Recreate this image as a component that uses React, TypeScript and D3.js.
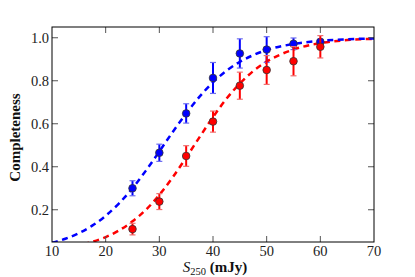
import React, { useEffect, useRef } from 'react';
import * as d3 from 'd3';

// measured points (flux in mJy)
const fluxes = [25, 30, 35, 40, 45, 50, 55, 60];
const blueVals = [0.30, 0.465, 0.648, 0.813, 0.927, 0.945, 0.972, 0.981];
const blueErrs = [0.035, 0.04, 0.045, 0.072, 0.068, 0.06, 0.027, 0.012];
const redVals = [0.11, 0.238, 0.45, 0.61, 0.777, 0.85, 0.891, 0.958];
const redErrs = [0.027, 0.037, 0.048, 0.049, 0.063, 0.067, 0.068, 0.052];

// fitted curves
const curveX = [10, 12.5, 15, 17.5, 20, 22.5, 25, 27.5, 30, 32.5, 35, 37.5, 40, 42.5, 45, 47.5, 50, 55, 60, 65, 70];
const blueCurve = [0.046, 0.065, 0.091, 0.126, 0.172, 0.23, 0.3, 0.382, 0.471, 0.562, 0.648, 0.726, 0.793, 0.846, 0.888, 0.919, 0.943, 0.971, 0.986, 0.993, 0.997];
const redCurve = [0.022, 0.028, 0.035, 0.051, 0.073, 0.104, 0.146, 0.2, 0.269, 0.351, 0.443, 0.538, 0.631, 0.716, 0.787, 0.845, 0.889, 0.945, 0.975, 0.989, 0.995];

const xTicks = [10, 20, 30, 40, 50, 60, 70];
const yTicks = [0.2, 0.4, 0.6, 0.8, 1.0];

const W = 415;
const H = 277;

const Chart = () => {
    const svgRef = useRef<SVGSVGElement>(null);

    useEffect(() => {
        const margin = { top: 27, right: 41, bottom: 35, left: 52 };
        const width = W - margin.left - margin.right;
        const height = H - margin.top - margin.bottom;
        const font = '"Liberation Serif", "DejaVu Serif", serif';

        const svg = d3.select(svgRef.current)
            .attr('width', W)
            .attr('height', H);

        svg.selectAll('*').remove();

        svg.append('defs').append('clipPath')
            .attr('id', 'plotclip')
            .append('rect')
            .attr('width', width)
            .attr('height', height);

        const g = svg.append('g')
            .attr('transform', `translate(${margin.left},${margin.top})`);

        const x = d3.scaleLinear().domain([10, 70]).range([0, width]);
        const y = d3.scaleLinear().domain([0.05, 1.05]).range([height, 0]);

        const plot = g.append('g').attr('clip-path', 'url(#plotclip)');

        const line = d3.line<number>()
            .x((_, i) => x(curveX[i]))
            .y(d => y(d))
            .curve(d3.curveMonotoneX);

        const series = [
            { vals: blueVals, errs: blueErrs, curve: blueCurve, color: '#0000ff', cap: '#6f6ff0' },
            { vals: redVals, errs: redErrs, curve: redCurve, color: '#ff0000', cap: '#f07070' }
        ];

        // dashed fits, red under blue
        [series[1], series[0]].forEach(s => {
            plot.append('path')
                .datum(s.curve)
                .attr('fill', 'none')
                .attr('stroke', s.color)
                .attr('stroke-width', 2.5)
                .attr('stroke-dasharray', '6,4.5')
                .attr('d', line);
        });

        // error bars + markers
        [series[0], series[1]].forEach(s => {
            const eg = plot.append('g');
            fluxes.forEach((f, i) => {
                const cx = x(f);
                const y0 = y(s.vals[i] - s.errs[i]);
                const y1 = y(s.vals[i] + s.errs[i]);
                eg.append('line')
                    .attr('x1', cx).attr('x2', cx)
                    .attr('y1', y0).attr('y2', y1)
                    .attr('stroke', s.color)
                    .attr('stroke-width', 2);
                [y0, y1].forEach(yy => {
                    eg.append('line')
                        .attr('x1', cx - 3).attr('x2', cx + 3)
                        .attr('y1', yy).attr('y2', yy)
                        .attr('stroke', s.cap)
                        .attr('stroke-width', 1.2);
                });
                eg.append('circle')
                    .attr('cx', cx)
                    .attr('cy', y(s.vals[i]))
                    .attr('r', 3.8)
                    .attr('fill', s.color)
                    .attr('stroke', '#333')
                    .attr('stroke-width', 0.8);
            });
        });

        // inward ticks on all four sides
        const tickLen = 6;
        const ticks = g.append('g').attr('stroke', '#555').attr('stroke-width', 1);
        xTicks.slice(1, -1).forEach(t => {
            ticks.append('line').attr('x1', x(t)).attr('x2', x(t)).attr('y1', height).attr('y2', height - tickLen);
            ticks.append('line').attr('x1', x(t)).attr('x2', x(t)).attr('y1', 0).attr('y2', tickLen);
        });
        yTicks.forEach(t => {
            ticks.append('line').attr('x1', 0).attr('x2', tickLen).attr('y1', y(t)).attr('y2', y(t));
            ticks.append('line').attr('x1', width).attr('x2', width - tickLen).attr('y1', y(t)).attr('y2', y(t));
        });

        g.append('rect')
            .attr('width', width)
            .attr('height', height)
            .attr('fill', 'none')
            .attr('stroke', '#000')
            .attr('stroke-width', 1);

        xTicks.forEach(t => {
            g.append('text')
                .attr('x', x(t))
                .attr('y', height + 14)
                .attr('text-anchor', 'middle')
                .attr('font-family', font)
                .attr('font-size', 14.5)
                .attr('fill', '#222')
                .text(t);
        });

        yTicks.forEach(t => {
            g.append('text')
                .attr('x', -3)
                .attr('y', y(t) + 5)
                .attr('text-anchor', 'end')
                .attr('font-family', font)
                .attr('font-size', 14.5)
                .attr('fill', '#222')
                .text(d3.format('.1f')(t));
        });

        const xl = g.append('text')
            .attr('x', width / 2 + 2)
            .attr('y', height + 30)
            .attr('text-anchor', 'middle')
            .attr('font-family', font)
            .attr('font-size', 15)
            .attr('fill', '#111');
        xl.append('tspan').attr('font-style', 'italic').text('S');
        xl.append('tspan').attr('font-size', 10.5).attr('dy', 3).text('250');
        xl.append('tspan').attr('dy', -3).attr('font-weight', 'bold').text(' (mJy)');

        g.append('text')
            .attr('transform', `translate(-32,${height / 2 + 3}) rotate(-90)`)
            .attr('text-anchor', 'middle')
            .attr('font-family', font)
            .attr('font-size', 15)
            .attr('font-weight', 'bold')
            .attr('fill', '#111')
            .text('Completeness');
    }, []);

    return <svg ref={svgRef} style={{ position: 'absolute', left: 0, top: 0 }}></svg>;
};

export default function App() {
    return <Chart />;
}
